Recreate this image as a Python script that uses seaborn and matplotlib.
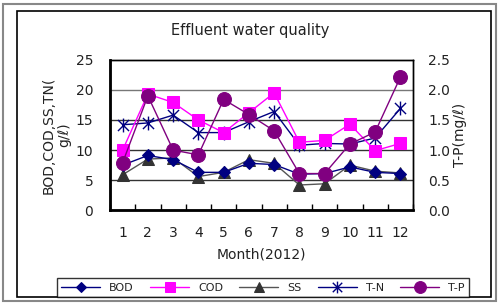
import numpy as np
import pandas as pd
import matplotlib
matplotlib.use("Agg")
import matplotlib.pyplot as plt
from matplotlib.path import Path
from matplotlib.patches import Rectangle
import seaborn as sns

months = list(range(1, 13))
month_labels = [str(m) for m in months]
bod = [7.5, 9.1, 8.4, 6.3, 6.3, 7.8, 7.6, 6.0, 6.1, 7.2, 6.3, 6.1]
cod = [10.0, 19.3, 17.9, 15.0, 12.9, 16.2, 19.5, 11.3, 11.6, 14.3, 9.9, 11.1]
ss = [5.9, 8.5, 8.7, 5.6, 6.3, 8.4, 7.8, 4.2, 4.4, 7.5, 6.5, 6.2]
tn = [14.2, 14.5, 15.8, 12.9, 12.9, 14.7, 16.4, 10.8, 11.1, 11.0, 12.0, 16.9]
tp = [0.79, 1.90, 1.00, 0.92, 1.84, 1.59, 1.32, 0.61, 0.61, 1.10, 1.30, 2.21]

df = pd.DataFrame({"Month": months, "BOD": bod, "COD": cod, "SS": ss, "T-N": tn, "T-P": tp})

sns.set_theme(style="white")
plt.rcParams["font.family"] = ["DejaVu Sans"]
txt = "#222222"

# Excel-style star marker: X plus vertical bar
star = Path([(-1, -1), (1, 1), (-1, 1), (1, -1), (0, -1.25), (0, 1.25)],
            [Path.MOVETO, Path.LINETO] * 3)

fig = plt.figure(figsize=(4.99, 3.06), dpi=100)
fig.patches.append(Rectangle((3 / 499, 1 - 301 / 306), 493 / 499, 297 / 306,
                             transform=fig.transFigure, fill=False,
                             edgecolor="#888888", lw=1.5))
fig.patches.append(Rectangle((17 / 499, 1 - 297 / 306), 474 / 499, 286 / 306,
                             transform=fig.transFigure, fill=False,
                             edgecolor="black", lw=1.2))

ax = fig.add_axes([110 / 499, 1 - 210.3 / 306, 303 / 499, 150.6 / 306])
ax2 = ax.twinx()

for ypos in [5, 10, 15, 20]:
    ax.axhline(ypos, color="#333333" if ypos != 20 else "#777777", lw=1, zorder=0)

sns.lineplot(data=df, x="Month", y="SS", ax=ax, color="#555555", lw=1,
             marker="^", markersize=9, markerfacecolor="#333333",
             markeredgecolor="#333333", label="SS", legend=False)
sns.lineplot(data=df, x="Month", y="BOD", ax=ax, color="#000080", lw=1,
             marker="D", markersize=6, markerfacecolor="#000080",
             markeredgecolor="#000080", label="BOD", legend=False)
sns.lineplot(data=df, x="Month", y="T-N", ax=ax, color="#000080", lw=1,
             marker=star, markersize=10, markerfacecolor="none",
             markeredgecolor="#000080", markeredgewidth=1, label="T-N", legend=False)
sns.lineplot(data=df, x="Month", y="COD", ax=ax, color="#FF00FF", lw=1,
             marker="s", markersize=9, markerfacecolor="#FF00FF",
             markeredgecolor="#FF00FF", label="COD", legend=False)
sns.lineplot(data=df, x="Month", y="T-P", ax=ax2, color="#800080", lw=1,
             marker="o", markersize=10, markerfacecolor="#800080",
             markeredgecolor="#800080", label="T-P", legend=False)

ax.set_xlim(0.5, 12.5)
ax.set_ylim(0, 25)
ax2.set_ylim(0, 2.5)
ax.set_xticks(months)
ax.set_xticklabels(month_labels)
ax.set_xticks(np.arange(0.5, 13, 1), minor=True)
ax.set_yticks([0, 5, 10, 15, 20, 25])
ax2.set_yticks([0, 0.5, 1.0, 1.5, 2.0, 2.5])
ax2.set_yticklabels(["0.0", "0.5", "1.0", "1.5", "2.0", "2.5"])
ax.tick_params(axis="x", which="major", length=0, pad=11, labelsize=10, colors=txt)
ax.tick_params(axis="x", which="minor", direction="in", length=4, width=1, color="black", bottom=True)
ax.tick_params(axis="y", length=0, pad=12, labelsize=10, colors=txt)
ax2.tick_params(axis="y", length=0, pad=11, labelsize=10, colors=txt)

for a in (ax, ax2):
    for s in a.spines.values():
        s.set_color("black")
        s.set_linewidth(1)
ax.spines["left"].set_linewidth(2)
ax.spines["bottom"].set_linewidth(2)

ax.set_xlabel("Month(2012)", fontsize=10, color=txt, labelpad=6)
ax.set_ylabel("BOD,COD,SS,TN(\ng/ℓ)", fontsize=10, color=txt, labelpad=3)
ax2.set_ylabel("T-P(mg/ℓ)", fontsize=10, color=txt, labelpad=2)
fig.text(250 / 499, 1 - 30 / 306, "Effluent water quality", ha="center",
         va="center", fontsize=10.5, color=txt)

h1, l1 = ax.get_legend_handles_labels()
h2, l2 = ax2.get_legend_handles_labels()
hd = dict(zip(l1 + l2, h1 + h2))
order = ["BOD", "COD", "SS", "T-N", "T-P"]
leg = fig.legend([hd[k] for k in order], order, ncol=5, mode="expand",
                 loc="lower left",
                 bbox_to_anchor=(57 / 499, 1 - 297 / 306, 412 / 499, 24 / 306),
                 frameon=True, fancybox=False, edgecolor="black",
                 fontsize=8, handlelength=3.5, borderaxespad=0, labelcolor=txt,
                 markerscale=0.85)
leg.get_frame().set_linewidth(1)

fig.savefig("out.png", dpi=100)
